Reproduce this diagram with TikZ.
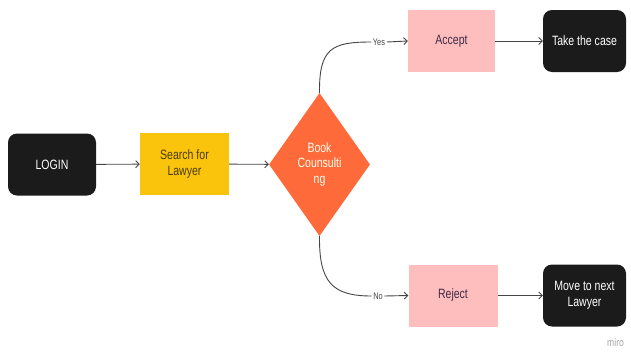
\documentclass[tikz,border=0pt]{standalone}
\usepackage{fontspec}
\setmainfont{Liberation Sans}[FakeStretch=0.78]
\usetikzlibrary{shapes.geometric,arrows.meta}
\definecolor{boxblack}{HTML}{1B1B1B}
\definecolor{boxyellow}{HTML}{FAC40C}
\definecolor{boxorange}{HTML}{FF6A3A}
\definecolor{boxpink}{HTML}{FFBEBE}
\definecolor{pinktext}{HTML}{3C2A45}
\definecolor{yellowtext}{HTML}{4A3A10}
\definecolor{linegrey}{HTML}{454545}
\tikzset{
  base/.style={inner sep=2pt, align=center, font=\fontsize{13.5}{15.5}\selectfont},
  blackbox/.style={base, fill=boxblack, text=white, rounded corners=9pt, minimum width=88pt, minimum height=62pt},
  yellowbox/.style={base, fill=boxyellow, text=yellowtext, minimum width=89pt, minimum height=62pt},
  pinkbox/.style={base, fill=boxpink, text=pinktext, minimum width=89pt, minimum height=62pt},
  decision/.style={base, diamond, fill=boxorange, text=white!92!yellow, aspect=0.706, minimum width=101pt, minimum height=143pt, inner sep=0pt},
  branchlabel/.style={inner sep=1.5pt, text=linegrey, font=\fontsize{9.5}{11}\selectfont},
  conn/.style={draw=linegrey, line width=0.9pt},
  arrowconn/.style={conn, -{Straight Barb[length=3.5pt,width=7pt,line width=0.9pt]}},
}
\begin{document}
\begin{tikzpicture}[x=1pt,y=-1pt]
\clip (0,0) rectangle (631,351);
\useasboundingbox (0,0) rectangle (631,351);
\node[blackbox] (login) at (52,164.5) {LOGIN};
\node[yellowbox] (search) at (184.5,164) {Search for\\Lawyer};
\node[decision] (book) at (319.5,164.5) {Book\\Counsulti\\ng};
\node[pinkbox, minimum width=87pt] (accept) at (451.5,41) {Accept};
\node[blackbox, minimum width=83pt] (take) at (584.5,41) {Take the case};
\node[pinkbox] (reject) at (453,295.5) {Reject};
\node[blackbox, minimum width=83pt] (move) at (584.5,295.5) {Move to next\\Lawyer};
\node[branchlabel] (yes) at (379,42) {Yes};
\node[branchlabel] (no) at (378,296) {No};
\node[anchor=west, inner sep=0pt, text=black!35, font=\fontsize{11}{13}\selectfont] (wm) at (607,343) {miro};
\draw[arrowconn] (login) -- (search);
\draw[arrowconn] (search) -- (book);
\draw[conn] (book.north) .. controls (319,48) and (332,42) .. (yes.west);
\draw[arrowconn] (yes.east) -- (accept.west);
\draw[conn] (book.south) .. controls (319,282) and (332,296) .. (no.west);
\draw[arrowconn] (no.east) -- (reject.west);
\draw[arrowconn] (accept) -- (take);
\draw[arrowconn] (reject) -- (move);
\end{tikzpicture}
\end{document}
